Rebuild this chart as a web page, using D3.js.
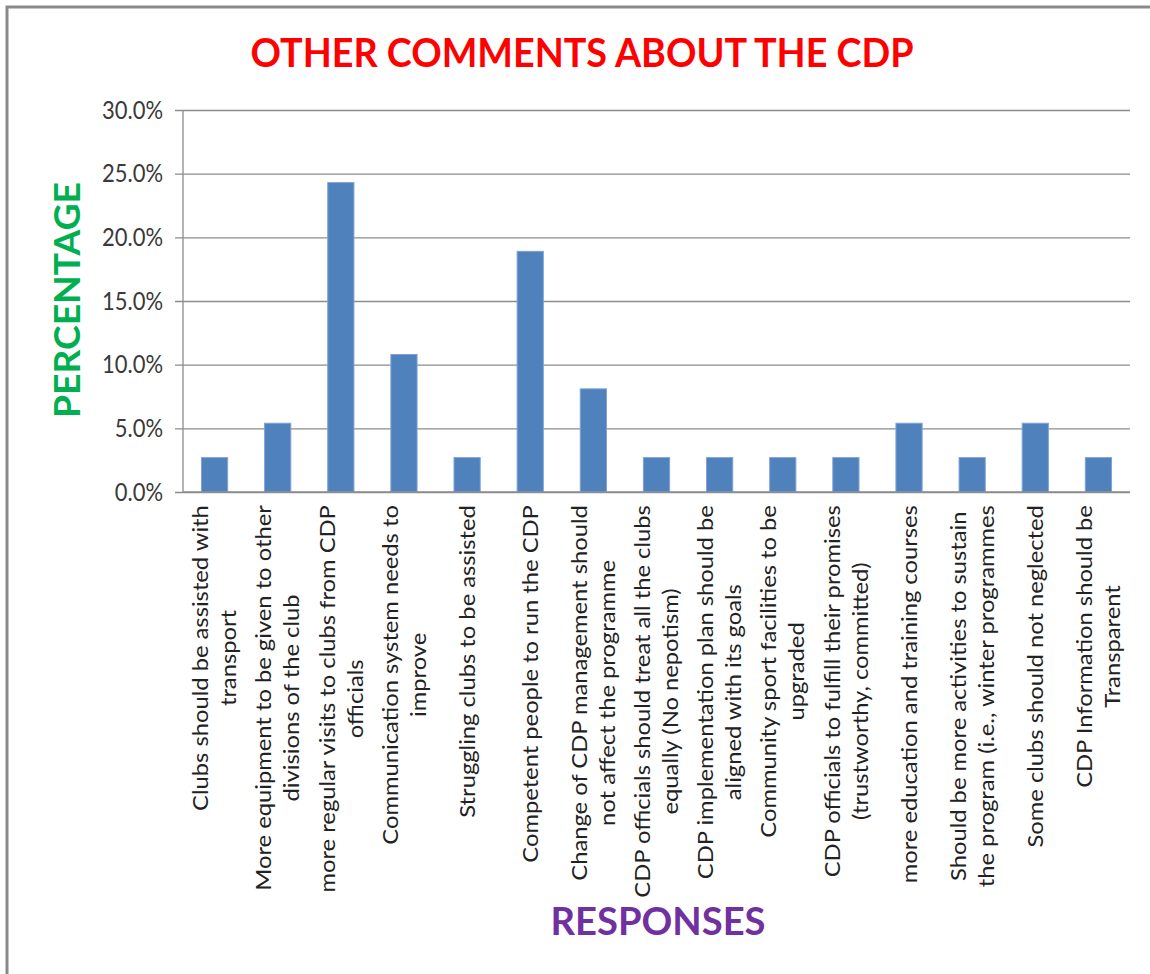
<!DOCTYPE html>
<html>
<head>
<meta charset="utf-8">
<script src="https://cdn.jsdelivr.net/npm/d3@7"></script>
<style>
  html, body { margin: 0; padding: 0; background: #fff; }
  svg { display: block; }
</style>
</head>
<body>
<script>
// Responses (each label given as its wrapped lines) and share of respondents
const categories = [
  ["Clubs should be assisted with", "transport"],
  ["More equipment to be given to other", "divisions of the club"],
  ["more regular visits to clubs from CDP", "officials"],
  ["Communication system needs to", "improve"],
  ["Struggling clubs to be assisted"],
  ["Competent people to run the CDP"],
  ["Change of CDP management should", "not affect the programme"],
  ["CDP officials should treat all the clubs", "equally (No nepotism)"],
  ["CDP implementation plan should be", "aligned with its goals"],
  ["Community sport facilities to be", "upgraded"],
  ["CDP officials to fulfill their promises", "(trustworthy, committed)"],
  ["more education and training courses"],
  ["Should be more activities to sustain", "the program (i.e., winter programmes"],
  ["Some clubs should  not neglected"],
  ["CDP Information should be", "Transparent"]
];
const values = [2.7, 5.4, 24.3, 10.8, 2.7, 18.9, 8.1, 2.7, 2.7, 2.7, 2.7, 5.4, 2.7, 5.4, 2.7];
const yTicks = [0, 5, 10, 15, 20, 25, 30];

const W = 1150, H = 974;
const plot = { left: 183, right: 1130, top: 110, bottom: 492 };
const FONT = "Lato, 'Open Sans', sans-serif";

const svg = d3.select("body").append("svg")
  .attr("width", W).attr("height", H);

// chart frame
svg.append("rect")
  .attr("x", 7).attr("y", 7)
  .attr("width", W + 20).attr("height", H + 20)
  .attr("fill", "#fff")
  .attr("stroke", "#8a8a8a").attr("stroke-width", 3);

const x = d3.scaleBand()
  .domain(d3.range(categories.length))
  .range([plot.left, plot.right])
  .paddingInner(0.585).paddingOuter(0.2925);

const y = d3.scaleLinear().domain([0, 30]).range([plot.bottom, plot.top]);

// horizontal gridlines with left tick labels
const yAxis = d3.axisLeft(y)
  .tickValues(yTicks)
  .tickSize(-(plot.right - plot.left) - 8)
  .tickPadding(12)
  .tickFormat(d => d.toFixed(1) + "%");

const gy = svg.append("g")
  .attr("transform", `translate(${plot.left - 8},0)`)
  .call(yAxis);
gy.select(".domain").remove();
gy.selectAll(".tick line").attr("stroke", "#8c8c8c").attr("stroke-width", 1.3);
gy.selectAll(".tick text")
  .attr("fill", "#3a3a3a")
  .attr("font-family", FONT)
  .attr("font-size", 22)
  .attr("transform", "scale(1,1.15)");

// value axis line
svg.append("line")
  .attr("x1", plot.left).attr("x2", plot.left)
  .attr("y1", plot.top).attr("y2", plot.bottom)
  .attr("stroke", "#8c8c8c").attr("stroke-width", 1.3);

// bars
svg.append("g").selectAll("rect")
  .data(values)
  .join("rect")
  .attr("x", (d, i) => x(i))
  .attr("y", d => y(d))
  .attr("width", x.bandwidth())
  .attr("height", d => y(0) - y(d))
  .attr("fill", "#4F81BD")
  .attr("stroke", "#7FA2D3").attr("stroke-width", 1);

// category axis line
svg.append("line")
  .attr("x1", plot.left).attr("x2", plot.right)
  .attr("y1", plot.bottom).attr("y2", plot.bottom)
  .attr("stroke", "#8c8c8c").attr("stroke-width", 1.3);

// rotated category labels
const lineGap = 28;
const stretch = 1.08;
const labels = svg.append("g").selectAll("g")
  .data(categories)
  .join("g")
  .attr("transform", (d, i) => `translate(${x(i) + x.bandwidth() / 2},${plot.bottom + 13}) rotate(-90)`);

labels.each(function (lines) {
  const g = d3.select(this);
  const t = g.append("text")
    .attr("font-family", FONT)
    .attr("font-size", 22)
    .attr("fill", "#222")
    .attr("text-anchor", "middle");
  lines.forEach((ln, k) => {
    t.append("tspan")
      .attr("x", 0)
      .attr("y", (k - (lines.length - 1) / 2) * lineGap)
      .attr("dy", "0.35em")
      .text(ln);
  });
  // block hangs from the axis, lines centred on each other
  const w = t.node().getBBox().width * stretch;
  t.attr("transform", `translate(${-w / 2},0) scale(${stretch},1)`);
});

// title
svg.append("text")
  .attr("x", 582).attr("y", 67)
  .attr("text-anchor", "middle")
  .attr("font-family", FONT)
  .attr("font-weight", "bold")
  .attr("font-size", 40)
  .attr("fill", "#FF0000")
  .attr("textLength", 663).attr("lengthAdjust", "spacingAndGlyphs")
  .text("OTHER COMMENTS ABOUT THE CDP");

// axis titles
svg.append("text")
  .attr("transform", "translate(80,300) rotate(-90)")
  .attr("text-anchor", "middle")
  .attr("font-family", FONT)
  .attr("font-weight", "bold")
  .attr("font-size", 36)
  .attr("fill", "#00B050")
  .attr("textLength", 236).attr("lengthAdjust", "spacingAndGlyphs")
  .text("PERCENTAGE");

svg.append("text")
  .attr("x", 658).attr("y", 935)
  .attr("text-anchor", "middle")
  .attr("font-family", FONT)
  .attr("font-weight", "bold")
  .attr("font-size", 38)
  .attr("fill", "#7030A0")
  .attr("textLength", 215).attr("lengthAdjust", "spacingAndGlyphs")
  .text("RESPONSES");
</script>
</body>
</html>
